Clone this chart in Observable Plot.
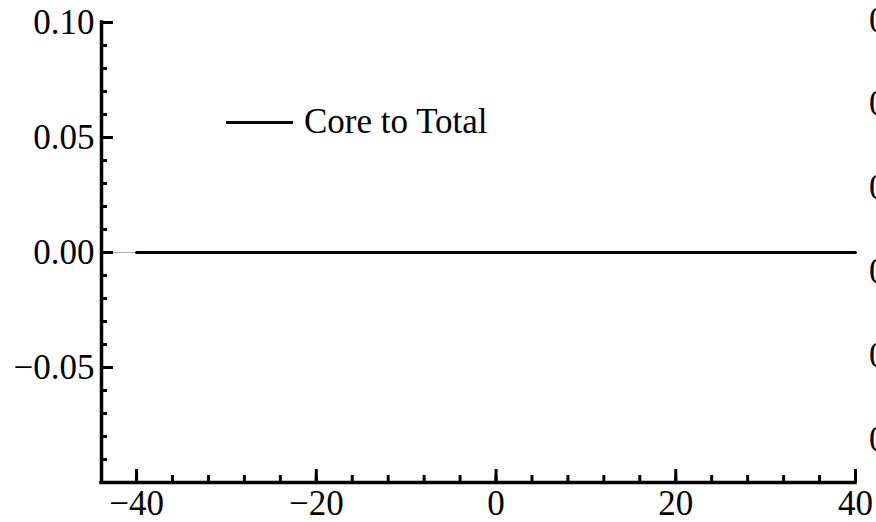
<!DOCTYPE html>
<html><head><meta charset="utf-8">
<script src="https://cdn.jsdelivr.net/npm/d3@7"></script>
<script src="https://cdn.jsdelivr.net/npm/@observablehq/plot@0.6"></script>
<style>
html,body{margin:0;padding:0;background:#fff;overflow:hidden}
#wrap{position:relative;width:876px;height:522px;overflow:hidden;font-family:"Liberation Serif","Times New Roman",serif;color:#000}
#wrap svg{display:block;position:absolute;left:0;top:0}
.lab{position:absolute;font-size:35px;line-height:1;white-space:nowrap}
.key{position:absolute;background:#000}
</style></head><body><div id="wrap"></div>
<script>
// ---- data ----
const xValues = [-40, 40];
const coreToTotal = [0, 0];
const seriesName = "Core to Total";
const xDomain = [-43.9, 40];
const yDomain = [-0.1, 0.1];
const xMajorTicks = [-40, -20, 0, 20, 40];
const xMinorTicks = [-40, -36, -32, -28, -24, -20, -16, -12, -8, -4, 0, 4, 8, 12, 16, 20, 24, 28, 32, 36, 40];
const yMajorTicks = [-0.05, 0, 0.05, 0.10];
const yMinorTicks = [-0.09, -0.08, -0.07, -0.06, -0.05, -0.04, -0.03, -0.02, -0.01, 0, 0.01, 0.02, 0.03, 0.04, 0.05, 0.06, 0.07, 0.08, 0.09];
const rightEdgeLabels = ["0", "0", "0", "0", "0", "0"];

const data = xValues.map((x, i) => ({x, y: coreToTotal[i]}));
const fmtY = d => d.toFixed(2).replace("-", "\u2212");
const fmtX = d => String(d).replace("-", "\u2212");

const chart = Plot.plot({
  width: 876, height: 522,
  marginLeft: 101, marginRight: 21, marginTop: 22, marginBottom: 40,
  x: {domain: xDomain, label: null},
  y: {domain: yDomain, label: null},
  style: {fontFamily: "'Liberation Serif', 'Times New Roman', serif", fontSize: "35px", background: "white", color: "black"},
  marks: [
    Plot.ruleY([0], {stroke: "#aaa", strokeWidth: 1}),
    Plot.line(data, {x: "x", y: "y", stroke: "black", strokeWidth: 3}),
    Plot.axisY(yMinorTicks, {anchor: "left", tickSize: 6, dx: 6, text: null, strokeWidth: 3, label: null}),
    Plot.axisY(yMajorTicks, {anchor: "left", tickSize: 12, dx: 12, text: null, strokeWidth: 3, label: null}),
    Plot.axisY(yMajorTicks, {anchor: "left", tickSize: 0, tickPadding: 7, tickFormat: fmtY, label: null}),
    Plot.axisX(xMinorTicks, {anchor: "bottom", tickSize: 7, dy: -7, text: null, strokeWidth: 3, label: null}),
    Plot.axisX(xMajorTicks, {anchor: "bottom", tickSize: 13, dy: -13, text: null, strokeWidth: 3, label: null}),
    Plot.axisX(xMajorTicks, {anchor: "bottom", tickSize: 0, tickPadding: 8, tickFormat: fmtX, label: null}),
    Plot.ruleX([xDomain[0]], {y1: yDomain[0], y2: yDomain[1], stroke: "black", strokeWidth: 3.5, strokeLinecap: "square"}),
    Plot.ruleY([yDomain[0]], {x1: xDomain[0], x2: xDomain[1], stroke: "black", strokeWidth: 3.5, strokeLinecap: "square"})
  ]
});
const wrap = document.getElementById("wrap");
wrap.appendChild(chart);

// legend
const key = document.createElement("div");
key.className = "key";
Object.assign(key.style, {left: "226px", top: "121px", width: "67px", height: "3px"});
wrap.appendChild(key);
const keyLab = document.createElement("div");
keyLab.className = "lab";
keyLab.textContent = seriesName;
Object.assign(keyLab.style, {left: "304px", top: "104px"});
wrap.appendChild(keyLab);

// clipped labels of a neighbouring panel at the right edge
const rightTops = [3, 86, 170, 254, 338, 422];
rightEdgeLabels.forEach((t, i) => {
  const s = document.createElement("div");
  s.className = "lab";
  s.textContent = t;
  Object.assign(s.style, {left: "869px", top: rightTops[i] + "px"});
  wrap.appendChild(s);
});
</script>
</body></html>
